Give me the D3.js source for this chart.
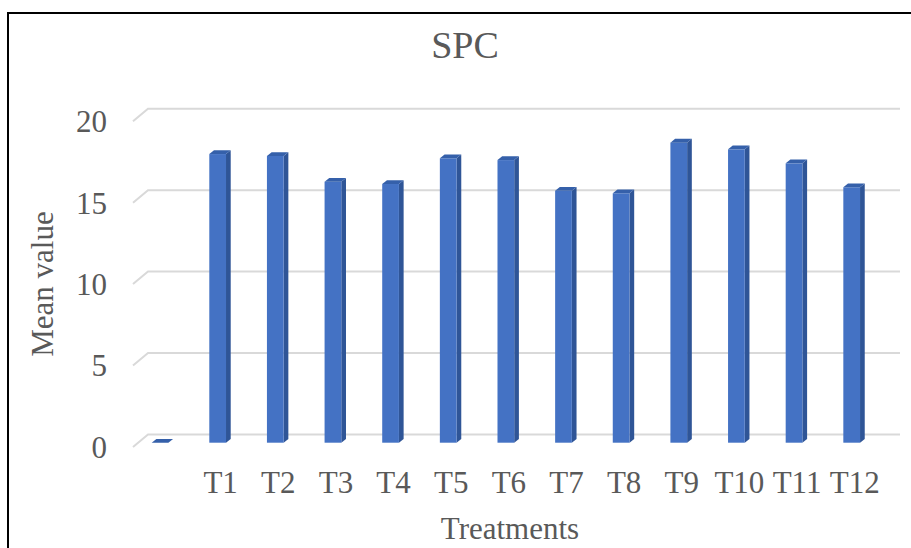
<!DOCTYPE html>
<html>
<head>
<meta charset="utf-8">
<script src="https://cdn.jsdelivr.net/npm/d3@7"></script>
<style>
  body { margin: 0; background: #fff; }
  text { font-family: "Liberation Serif", "Times New Roman", serif; fill: #595959; }
</style>
</head>
<body>
<div id="chart-area"></div>
<script>
const categories = ['', 'T1', 'T2', 'T3', 'T4', 'T5', 'T6', 'T7', 'T8', 'T9', 'T10', 'T11', 'T12'];
const meanValues = [0, 17.73, 17.61, 16.03, 15.89, 17.47, 17.36, 15.48, 15.32, 18.43, 18.02, 17.16, 15.69];
const yTicks = [0, 5, 10, 15, 20];

const width = 911, height = 548;

// 3d look: depth of the floor and of each column
const depth = {dx: 15, dy: -12.5};
const bar = {dx: 4.7, dy: -3.8};

const svg = d3.select('#chart-area')
    .append('svg')
    .attr('width', width)
    .attr('height', height);

// border (cropped on right / bottom)
svg.append('path')
    .attr('d', 'M' + width + ',13 H8 V' + height)
    .attr('fill', 'none')
    .attr('stroke', '#000')
    .attr('stroke-width', 2);

const xScale = d3.scaleBand()
    .domain(categories)
    .range([131.2, 880.5])
    .paddingInner(0.71)
    .paddingOuter(0.355);

const yScale = d3.scaleLinear()
    .domain([0, 20])
    .range([442.7, 117.1]);

const floorLeft = 133, wallRight = 900;

// gridlines: side wall diagonal + back wall line
const grid = svg.append('g');
yTicks.forEach(v => {
    const yf = yScale(v) + 4.2;
    grid.append('path')
        .attr('d', 'M' + floorLeft + ',' + yf +
            ' L' + (floorLeft + depth.dx) + ',' + (yf + depth.dy) +
            ' H' + wallRight)
        .attr('fill', 'none')
        .attr('stroke', '#d9d9d9')
        .attr('stroke-width', 2);

    svg.append('text')
        .attr('x', 107)
        .attr('y', yf)
        .attr('dy', '0.35em')
        .attr('text-anchor', 'end')
        .attr('font-size', '31px')
        .text(v);
});

// columns
const cols = svg.selectAll('g.col')
    .data(categories.map((c, i) => ({cat: c, value: meanValues[i]})))
    .enter()
    .append('g')
    .attr('class', 'col');

const w = xScale.bandwidth();
const y0 = yScale(0);

cols.append('path')
    .attr('fill', '#2f5597')
    .attr('d', d => {
        const x = xScale(d.cat) + w, y = yScale(d.value);
        return 'M' + x + ',' + y + ' L' + (x + bar.dx) + ',' + (y + bar.dy) +
            ' L' + (x + bar.dx) + ',' + (y0 + bar.dy) + ' L' + x + ',' + y0 + 'Z';
    });

cols.append('rect')
    .attr('fill', '#4472c4')
    .attr('x', d => xScale(d.cat))
    .attr('y', d => yScale(d.value))
    .attr('width', w)
    .attr('height', d => y0 - yScale(d.value));

cols.append('path')
    .attr('fill', '#3560aa')
    .attr('d', d => {
        const x = xScale(d.cat), y = yScale(d.value);
        return 'M' + x + ',' + y + ' L' + (x + w) + ',' + y +
            ' L' + (x + w + bar.dx) + ',' + (y + bar.dy) +
            ' L' + (x + bar.dx) + ',' + (y + bar.dy) + 'Z';
    });

// category labels
svg.selectAll('text.xlab')
    .data(categories)
    .enter()
    .append('text')
    .attr('class', 'xlab')
    .attr('x', d => xScale(d) + w / 2 + 3)
    .attr('y', 493)
    .attr('text-anchor', 'middle')
    .attr('font-size', '31px')
    .text(d => d);

svg.append('text')
    .attr('x', 465)
    .attr('y', 58)
    .attr('text-anchor', 'middle')
    .attr('font-size', '38px')
    .text('SPC');

svg.append('text')
    .attr('x', 510)
    .attr('y', 539)
    .attr('text-anchor', 'middle')
    .attr('font-size', '31px')
    .text('Treatments');

svg.append('text')
    .attr('transform', 'translate(53, 284) rotate(-90)')
    .attr('text-anchor', 'middle')
    .attr('font-size', '31px')
    .text('Mean value');
</script>
</body>
</html>
